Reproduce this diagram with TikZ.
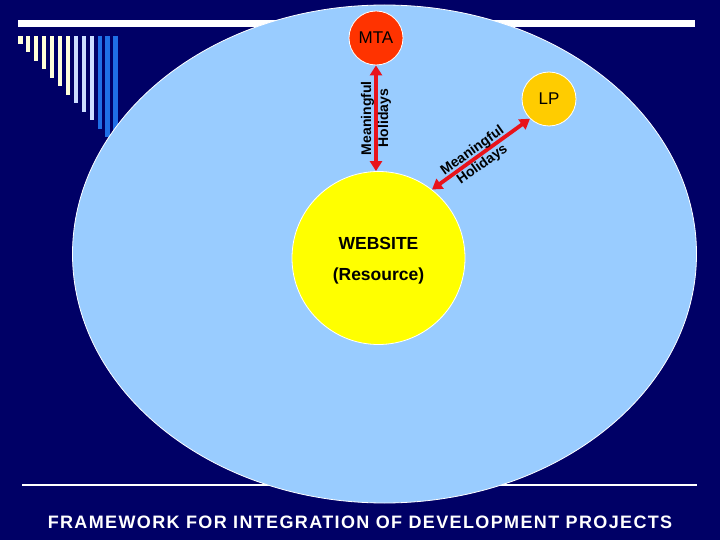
\documentclass[tikz,border=0pt]{standalone}
\usepackage{fontspec}
\setmainfont{Liberation Sans}
\usetikzlibrary{arrows.meta}
\definecolor{navy}{RGB}{0,0,102}
\definecolor{skyfill}{RGB}{153,204,255}
\definecolor{mtafill}{RGB}{255,51,0}
\definecolor{lpfill}{RGB}{255,204,0}
\definecolor{webfill}{RGB}{255,255,0}
\definecolor{arrowred}{RGB}{232,19,27}
\definecolor{cream}{RGB}{255,255,217}
\definecolor{paleblue}{RGB}{204,221,255}
\definecolor{midblue}{RGB}{31,111,230}
\tikzset{
  disc/.style={circle, draw=white, line width=0.8pt, inner sep=0pt},
  link/.style={draw=arrowred, line width=3.8pt, {Triangle[length=10pt,width=12pt]}-{Triangle[length=10pt,width=12pt]}},
  linklabel/.style={font=\bfseries\fontsize{14}{17}\selectfont, align=center, text=black, inner sep=0pt}
}
\begin{document}
\begin{tikzpicture}[x=1pt,y=-1pt]
\useasboundingbox (0,0) rectangle (720,540);
\fill[navy] (0,0) rectangle (720,540);
% top white bar
\fill[white] (18,20) rectangle (695,27);
% vertical bars
\foreach \i/\c in {0/cream,1/cream,2/cream,3/cream,4/cream,5/cream,6/cream,7/paleblue,8/paleblue,9/paleblue,10/midblue,11/midblue,12/midblue}{
  \fill[\c] ({18+7.95*\i},36) rectangle ({22.5+7.95*\i},{44+8.5*\i});
}
% bottom line
\draw[white, line width=2pt] (22,485) -- (697,485);
% big ellipse
\filldraw[fill=skyfill, draw=white, line width=0.8pt] (384.5,254) ellipse [x radius=312pt, y radius=249pt];
% nodes
\node[disc, fill=mtafill, minimum size=54pt, font=\fontsize{17}{17}\selectfont] (mta) at (376,38) {MTA};
\node[disc, fill=lpfill, minimum size=54pt, font=\fontsize{17}{17}\selectfont] (lp) at (549,99) {LP};
\node[disc, fill=webfill, minimum size=173pt] (web) at (378.5,258) {};
\node[font=\bfseries\fontsize{17.5}{17.5}\selectfont] (webt) at (378.5,243) {WEBSITE};
\node[font=\bfseries\fontsize{17.5}{17.5}\selectfont] (webr) at (378.5,276) {(Resource)};
% connectors
\draw[link] (mta) -- (web.90 -| mta) node[midway, linklabel, rotate=90] (l1) {Meaningful\\Holidays};
\draw[link] (web.52) -- (lp.226) node[midway, linklabel, rotate=35.5, xshift=-5pt, yshift=-1pt] (l2) {Meaningful\\Holidays};
% footer
\node[text=white, font=\bfseries\fontsize{18}{18}\selectfont\addfontfeatures{LetterSpace=7.6}] (foot) at (360,522) {FRAMEWORK FOR INTEGRATION OF DEVELOPMENT PROJECTS};
\end{tikzpicture}
\end{document}
